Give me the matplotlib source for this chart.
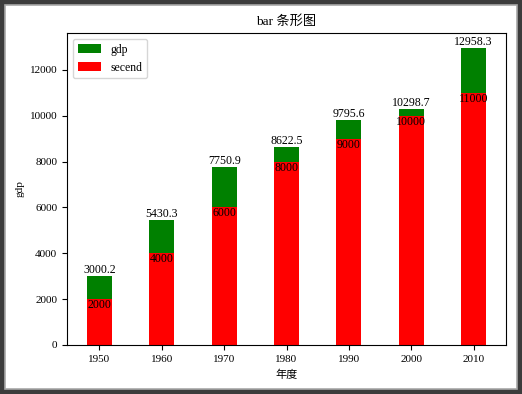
import matplotlib
matplotlib.use("Agg")
import matplotlib.pyplot as plt
from matplotlib.patches import Rectangle

plt.rcParams['font.family'] = ['Liberation Serif', 'Noto Sans CJK SC', 'DejaVu Sans']
plt.rcParams['font.size'] = 8

years = [1950, 1960, 1970, 1980, 1990, 2000, 2010]
gdp = [3000.2, 5430.3, 7750.9, 8622.5, 9795.6, 10298.7, 12958.3]
second = [2000, 4000, 6000, 8000, 9000, 10000, 11000]

fig = plt.figure(figsize=(5.22, 3.94), dpi=100, facecolor='#3c3c3c')
# window frame
fig.patches.append(Rectangle((5 / 522, 5 / 394), 512 / 522, 384 / 394,
                             transform=fig.transFigure, facecolor='white',
                             edgecolor='#a8a8a8', linewidth=1.2, zorder=-10))
ax = fig.add_axes([67 / 522, 49 / 394, 439 / 522, 312 / 394])

ax.bar(years, gdp, width=4, color='green', label='gdp')
ax.bar(years, second, width=4, color='red', label='secend')

for x, v in zip(years, gdp):
    ax.text(x, v, '%.1f' % v, ha='center', va='bottom', fontsize=8.6)
for x, v in zip(years, second):
    ax.text(x, v, '%d' % v, ha='center', va='top', fontsize=8.6)

ax.set_xticks(years)
ax.set_title('bar 条形图', fontsize=9.5)
ax.set_xlabel('年度')
ax.set_ylabel('gdp')
ax.legend(loc='upper left', fontsize=8.5)

fig.savefig('out.png', dpi=100, facecolor=fig.get_facecolor())
